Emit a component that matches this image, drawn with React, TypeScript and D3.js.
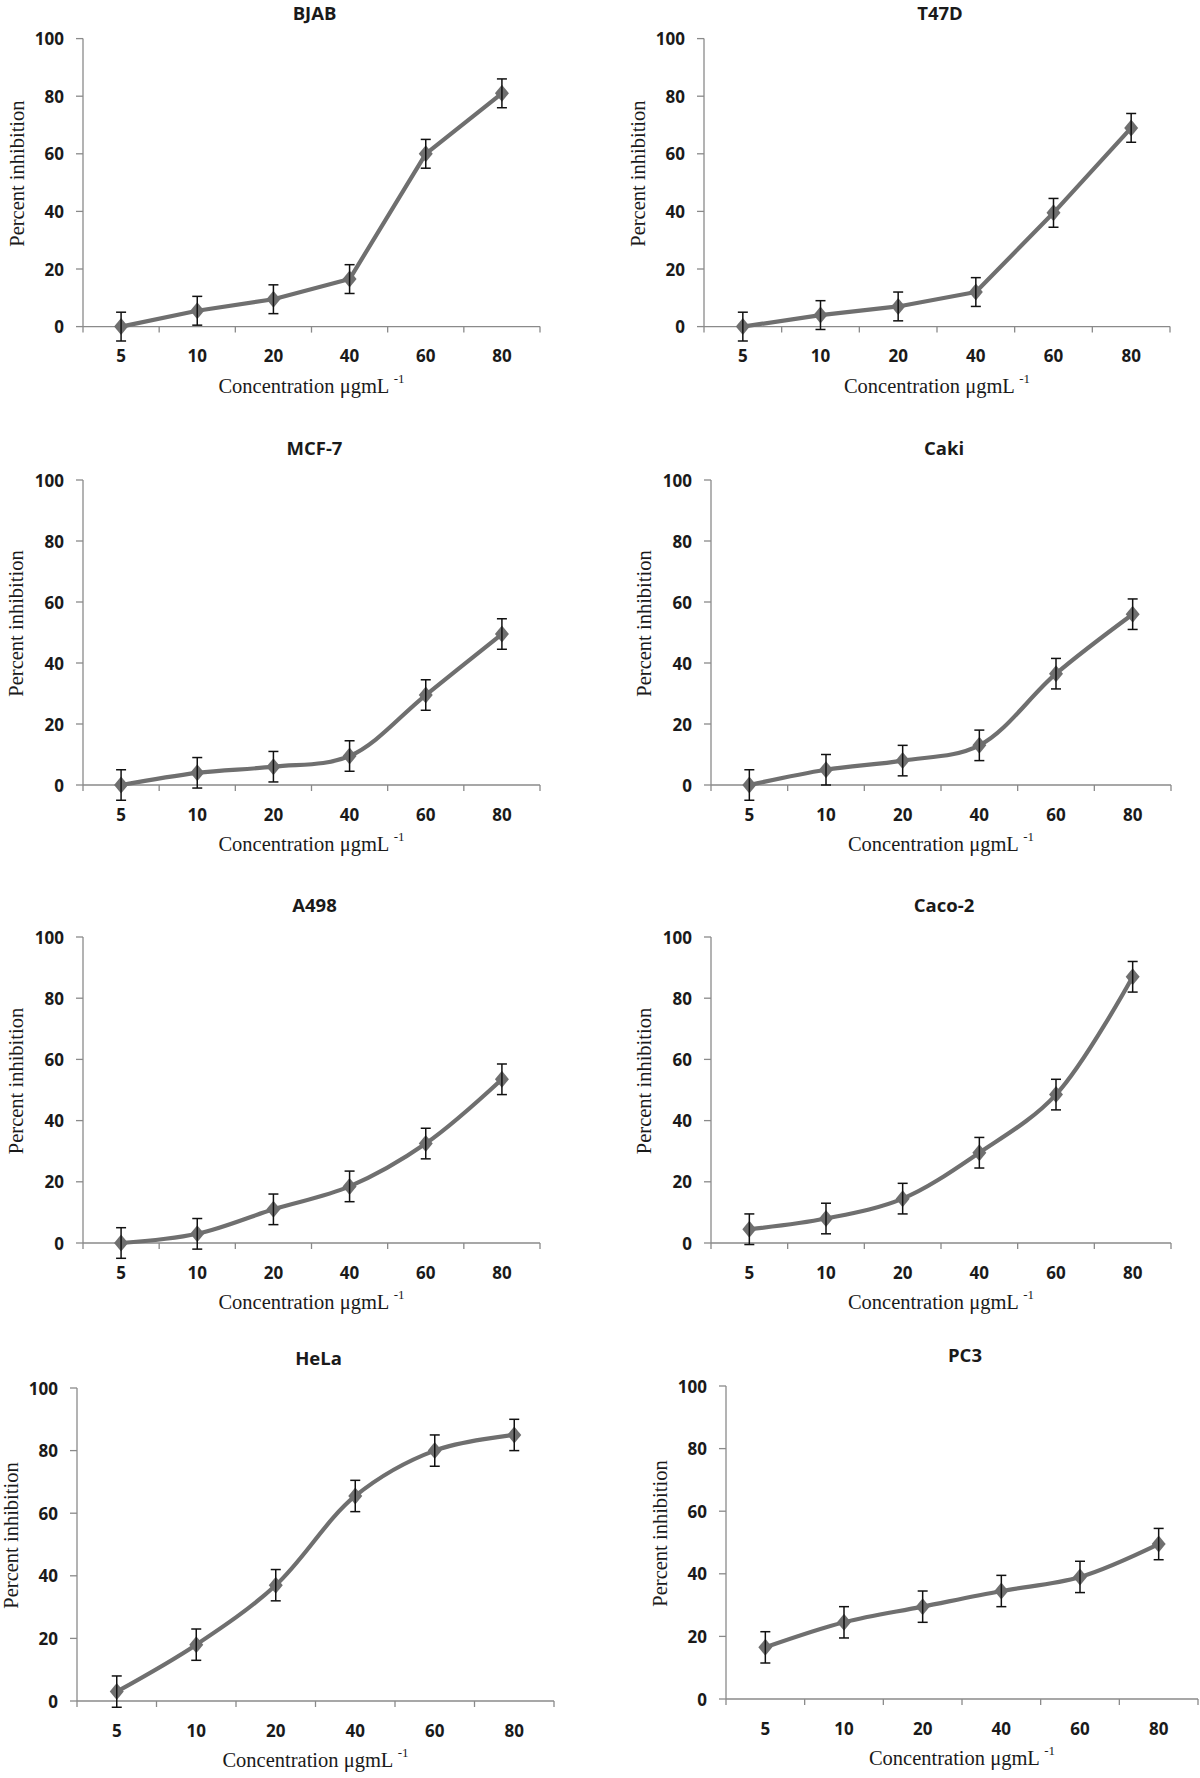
import React from "react";
import * as d3 from "d3";

const concentrations = ["5", "10", "20", "40", "60", "80"];
const yTicks = [0, 20, 40, 60, 80, 100];

const bjab = [0, 5.5, 9.5, 16.5, 60, 81];
const t47d = [0, 4, 7, 12, 39.5, 69];
const mcf7 = [0, 4, 6, 9.5, 29.5, 49.5];
const caki = [0, 5, 8, 13, 36.5, 56];
const a498 = [0, 3, 11, 18.5, 32.5, 53.5];
const caco2 = [4.5, 8, 14.5, 29.5, 48.5, 87];
const hela = [3, 18, 37, 65.5, 80, 85];
const pc3 = [16.5, 24.5, 29.5, 34.5, 39, 49.5];
const errorSize = 5;

const titles = ["BJAB", "T47D", "MCF-7", "Caki", "A498", "Caco-2", "HeLa", "PC3"];
const seriesList = [bjab, t47d, mcf7, caki, a498, caco2, hela, pc3];
const smoothFlags = [false, false, true, true, true, true, true, true];

// layout: [axisX, axisEnd, yTop, yBottom, titleBaseline, yLabelX]
const layouts = [
  [83, 540, 38.6, 326.6, 20, 17],
  [704, 1170, 38.6, 326.6, 20, 638],
  [83, 540, 480, 785, 455, 16],
  [711, 1171, 480, 785, 455, 644],
  [83, 540, 937, 1243, 912, 16],
  [711, 1171, 937, 1243, 912, 644],
  [77, 554, 1388, 1701, 1365, 11],
  [726, 1198, 1386, 1699, 1362, 660],
];

const LINE = "#6f6f6f";
const AXIS = "#8a8a8a";
const TXT = "#1a1a1a";
const SANS = "'Open Sans', 'DejaVu Sans', sans-serif";
const SERIF = "'Liberation Serif', 'DejaVu Serif', serif";

const diamondPath = "M0,-8.5L7,0L0,8.5L-7,0Z";

function Panel({ idx }: { idx: number }) {
  const [ax, ae, yt, yb, ty, ylx] = layouts[idx];
  const values = seriesList[idx];
  const x = d3.scaleBand<string>().domain(concentrations).range([ax, ae]).padding(0);
  const y = d3.scaleLinear().domain([0, 100]).range([yb, yt]);
  const cx = (c: string) => (x(c) as number) + x.bandwidth() / 2;
  const pts: [number, number][] = values.map((v, i) => [cx(concentrations[i]), y(v)]);
  const line = d3
    .line<[number, number]>()
    .x((d) => d[0])
    .y((d) => d[1])
    .curve(smoothFlags[idx] ? d3.curveCatmullRom.alpha(0.5) : d3.curveLinear);
  const boundaries = concentrations.map((c) => x(c) as number).concat([ae]);
  const midX = (ax + ae) / 2;
  const midY = (yt + yb) / 2 - 9;
  return (
    <g>
      <text x={midX + 3} y={ty} textAnchor="middle" fontFamily={SANS} fontWeight="bold" fontSize={18.5} fill={TXT}>
        {titles[idx]}
      </text>
      {/* y axis */}
      <line x1={ax} x2={ax} y1={yt} y2={yb} stroke={AXIS} strokeWidth={1.3} />
      {yTicks.map((t) => (
        <g key={"yt" + t}>
          <line x1={ax - 7} x2={ax} y1={y(t)} y2={y(t)} stroke={AXIS} strokeWidth={1.3} />
          <text x={ax - 19} y={y(t)} textAnchor="end" dominantBaseline="central" fontFamily={SANS} fontWeight="bold" fontSize={17} fill={TXT}>
            {t}
          </text>
        </g>
      ))}
      {/* x axis */}
      <line x1={ax} x2={ae} y1={yb} y2={yb} stroke={AXIS} strokeWidth={1.3} />
      {boundaries.map((b, i) => (
        <line key={"xb" + i} x1={b} x2={b} y1={yb} y2={yb + 6} stroke={AXIS} strokeWidth={1.3} />
      ))}
      {concentrations.map((c) => (
        <text key={"xl" + c} x={cx(c)} y={yb + 29} textAnchor="middle" dominantBaseline="central" fontFamily={SANS} fontWeight="bold" fontSize={17} fill={TXT}>
          {c}
        </text>
      ))}
      <text x={midX} y={yb + 59} textAnchor="middle" dominantBaseline="central" fontFamily={SERIF} fontSize={20.5} fill={TXT}>
        Concentration μgmL{" "}
        <tspan fontSize={13} dy={-8}>-1</tspan>
      </text>
      <text
        transform={`translate(${ylx},${midY}) rotate(-90)`}
        textAnchor="middle"
        dominantBaseline="central"
        fontFamily={SERIF}
        fontSize={20.5}
        fill={TXT}
      >
        Percent inhibition
      </text>
      {/* series line */}
      <path d={line(pts) || ""} fill="none" stroke={LINE} strokeWidth={4.2} strokeLinejoin="round" />
      {pts.map((p, i) => (
        <path key={"m" + i} d={diamondPath} transform={`translate(${p[0]},${p[1]})`} fill={LINE} />
      ))}
      {/* error bars */}
      {values.map((v, i) => {
        const px = cx(concentrations[i]);
        const top = y(v + errorSize);
        const bot = y(v - errorSize);
        return (
          <g key={"e" + i} stroke="#111" strokeWidth={1.5}>
            <line x1={px} x2={px} y1={top} y2={bot} />
            <line x1={px - 5} x2={px + 5} y1={top} y2={top} />
            <line x1={px - 5} x2={px + 5} y1={bot} y2={bot} />
          </g>
        );
      })}
    </g>
  );
}

export default function App() {
  return (
    <svg width={1200} height={1778} style={{ position: "absolute", left: 0, top: 0, background: "#fff" }}>
      <rect x={0} y={0} width={1200} height={1778} fill="#fff" />
      {titles.map((t, i) => (
        <Panel key={t} idx={i} />
      ))}
    </svg>
  );
}
